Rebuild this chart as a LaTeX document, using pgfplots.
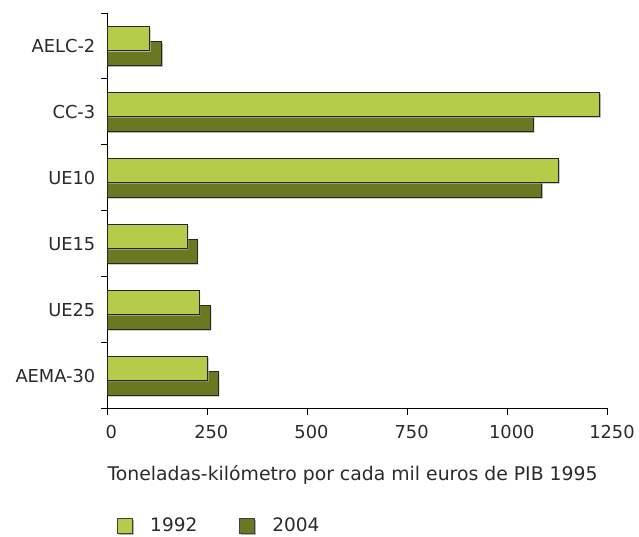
\documentclass[border=0pt]{standalone}
\usepackage{pgfplots}
\pgfplotsset{compat=1.18}
\usepackage{fontspec}
\setmainfont{DejaVu Sans}
\definecolor{lightg}{HTML}{B5CB4A}
\definecolor{darkg}{HTML}{6B7822}
\definecolor{txt}{HTML}{2A2A2A}
\begin{document}
\fontsize{17bp}{20bp}\selectfont
\begin{tikzpicture}
\begin{axis}[
  name=ax,
  scale only axis,
  width=500bp, height=395bp,
  xmin=0, xmax=1250, ymin=-0.5, ymax=5.5,
  axis lines*=left,
  axis line style={-, line width=1pt, color=black},
  xbar, bar width=24bp,
  xtick={0,250,500,750,1000,1250},
  ytick={0,1,2,3,4,5},
  yticklabels={AEMA-30,UE25,UE15,UE10,CC-3,AELC-2},
  minor ytick={-0.5,0.5,1.5,2.5,3.5,4.5,5.5},
  major y tick style={draw=none},
  minor tick length=6bp, major tick length=6bp,
  tick align=outside,
  tick style={line width=1pt, color=black},
  /pgf/number format/assume math mode=true,
  /pgf/number format/1000 sep={},
  x tick label style={font=\fontsize{17.8bp}{20bp}\selectfont, color=txt, yshift=-5bp, xshift=4bp},
  y tick label style={font=\fontsize{17.8bp}{20bp}\selectfont, color=txt, xshift=0bp},
  xlabel={Toneladas-kilómetro por cada mil euros de PIB 1995},
  xlabel style={at={(axis description cs:0.49,0)}, anchor=center, yshift=-66bp, color=txt, font=\fontsize{18.8bp}{20bp}\selectfont},
  legend columns=2,
  reverse legend,
  legend style={draw=none, fill=none, inner sep=0pt, at={(axis description cs:0,0)}, anchor=west, xshift=10bp, yshift=-117bp,
    font=\fontsize{18.5bp}{20bp}\selectfont, text=txt,
    /tikz/every odd column/.append style={column sep=15bp},
    /tikz/every even column/.append style={column sep=40bp}},
  legend image code/.code={\draw[#1, bar shift=0pt, draw=black!75, line width=0.8pt] (0bp,-7.5bp) rectangle (15bp,7.5bp);},
]
\addplot[fill=darkg, draw=black!85, line width=0.8pt, bar shift=-7.5bp,
  preaction={fill=black!30, draw=none, transform canvas={xshift=1.3bp, yshift=-1.3bp}}] coordinates {
  (277,0) (257,1) (224,2) (1084,3) (1063,4) (136,5)};
\addplot[fill=lightg, draw=black!85, line width=0.8pt, bar shift=7.5bp,
  preaction={fill=black!30, draw=none, transform canvas={xshift=1.3bp, yshift=-1.3bp}}] coordinates {
  (250,0) (229,1) (199.5,2) (1126,3) (1229,4) (105,5)};
\legend{2004,1992}
\end{axis}
\pgfresetboundingbox
\path[use as bounding box] ([shift={(-107bp,-128bp)}]ax.south west) rectangle ([shift={(31bp,13bp)}]ax.north east);
\end{tikzpicture}
\end{document}
